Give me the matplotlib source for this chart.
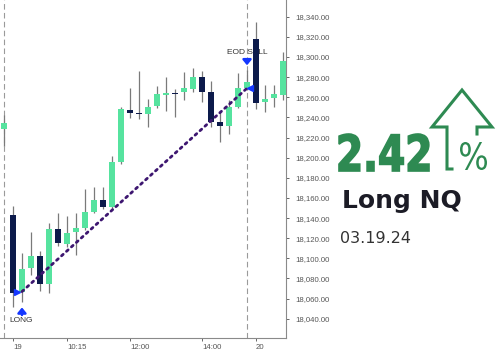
import matplotlib
matplotlib.use("Agg")
import matplotlib.pyplot as plt
from matplotlib.lines import Line2D
from matplotlib.patches import PathPatch
from matplotlib.textpath import TextPath
from matplotlib.font_manager import FontProperties
from matplotlib.transforms import Affine2D
from matplotlib.ticker import FuncFormatter, MultipleLocator
from matplotlib import font_manager

# 15 min bars, index 0 = last bar of the previous session
opens = [18228, 18143, 18067, 18090, 18102, 18075, 18129, 18114, 18126, 18130,
         18146, 18158, 18151, 18196, 18247, 18243.5, 18243, 18251, 18262, 18264,
         18265, 18268, 18280, 18265, 18235, 18231, 18250, 18269, 18318, 18255,
         18259, 18262]
highs = [18242, 18152, 18105, 18126, 18107, 18135, 18145, 18142, 18145, 18169,
         18171, 18171, 18202, 18250, 18269, 18286, 18258, 18271, 18280, 18268,
         18285, 18289, 18286, 18276, 18245, 18257, 18284, 18287, 18335, 18272,
         18272, 18305]
lows = [18212, 18052, 18057, 18083, 18068, 18066, 18112, 18111, 18103, 18128,
        18145, 18149, 18148, 18194, 18239, 18238, 18230, 18249, 18246, 18240,
        18257, 18265, 18255, 18230, 18216, 18224, 18249, 18267, 18248, 18245,
        18250, 18257]
closes = [18234, 18066, 18089, 18102, 18075, 18129, 18115, 18125, 18130, 18146,
          18158, 18151, 18196, 18248, 18244, 18243, 18250, 18263, 18264, 18263,
          18269, 18280, 18265, 18235, 18231, 18250, 18269, 18275, 18254, 18258,
          18263, 18296]

tick_pos = [1, 7, 14, 22, 28]
tick_labels = ["19", "10:15", "12:00", "14:00", "20"]
day_breaks = [0, 27]

entry_idx, entry_price = 2, 18067
exit_idx, exit_price = 27, 18269

pct_text = "2.42"
title_text = "Long NQ"
date_text = "03.19.24"

UP = "#56e39f"
DOWN = "#0c1a4b"
WICK = "#7a7a7a"
TXT_GREEN = "#2e8a52"
BLUE = "#1437ff"

names = {f.name for f in font_manager.fontManager.ttflist}
small = "Liberation Sans" if "Liberation Sans" in names else "DejaVu Sans"

fig = plt.figure(figsize=(5, 3.5), dpi=100)
ax = fig.add_axes([0, 0.034, 0.572, 0.966])

xs = list(range(len(opens)))
for b in day_breaks:
    ax.axvline(b, color="#9a9a9a", lw=0.8, ls=(0, (5, 3)), zorder=0)

ax.vlines(xs, lows, highs, color=WICK, lw=0.9, zorder=2)
for i in xs:
    o, c = opens[i], closes[i]
    col = UP if c > o else DOWN
    h = max(abs(c - o), 1.0)
    ax.bar(i, h, bottom=min(o, c), width=0.72, color=col, zorder=3)

# trade line
ax.plot([entry_idx, exit_idx], [entry_price, exit_price], color="#3d1670",
        lw=2.0, ls=(0, (0.8, 1.6)), dash_capstyle="round", zorder=4)
ax.plot(entry_idx - 0.6, entry_price, marker=">", color=BLUE, ms=5, zorder=5)
ax.plot(exit_idx + 0.3, exit_price, marker="<", color=BLUE, ms=4, zorder=5)

arr = dict(arrowstyle="-|>,head_width=0.25,head_length=0.3", color=BLUE, lw=1.8)
ax.annotate("", xy=(entry_idx, 18054), xytext=(entry_idx, 18041), arrowprops=arr, zorder=5)
ax.text(entry_idx - 0.05, 18038, "LONG", fontsize=6, family=small, color="#333333",
        ha="center", va="center")

ax.annotate("", xy=(exit_idx, 18289), xytext=(exit_idx, 18299), arrowprops=arr, zorder=5)
ax.text(exit_idx, 18304, "EOD SELL", fontsize=6, family=small, color="#333333",
        ha="center", va="center", zorder=1)

ax.set_xlim(-0.44, 31.33)
ax.set_ylim(18020.8, 18356.6)

ax.yaxis.tick_right()
ax.yaxis.set_major_locator(MultipleLocator(20))
ax.yaxis.set_major_formatter(FuncFormatter(lambda v, p: f"{v:,.2f}"))
ax.set_xticks(tick_pos)
ax.set_xticklabels(tick_labels, ha="left")
ax.tick_params(axis="both", labelsize=5.6, colors="#666666", length=2.5, width=0.7, pad=2)
ax.tick_params(axis="y", pad=4)
for lab in ax.get_xticklabels() + ax.get_yticklabels():
    lab.set_family(small)
    lab.set_color("#555555")

for s in ["top", "left"]:
    ax.spines[s].set_visible(False)
for s in ["right", "bottom"]:
    ax.spines[s].set_color("#8a8a8a")
    ax.spines[s].set_linewidth(0.8)


# right hand panel, positions in pixels from the top-left corner
def fx(px):
    return px / 500


def fy(py):
    return 1 - py / 350


def squeezed_text(s, left, top, right, bottom, weight="normal", stroke=0.0):
    # condensed lettering: glyph outline stretched into a pixel box
    path = TextPath((0, 0), s, size=1, prop=FontProperties(family="DejaVu Sans", weight=weight))
    bb = path.get_extents()
    sx = (right - left) / bb.width / 500
    sy = (bottom - top) / bb.height / 350
    tr = Affine2D().translate(-bb.x0, -bb.y0).scale(sx, sy).translate(fx(left), fy(bottom))
    fig.add_artist(PathPatch(path, transform=tr + fig.transFigure, facecolor=TXT_GREEN,
                             edgecolor=TXT_GREEN if stroke else "none", lw=stroke))


squeezed_text(pct_text, 339, 134, 429, 171, weight="bold", stroke=1.2)
squeezed_text("%", 460, 142, 487, 170)

arrow_px = [(452, 169), (447, 169), (447, 127), (432, 127), (462, 90),
            (492, 127), (477, 127), (477, 134)]
fig.add_artist(Line2D([fx(p[0]) for p in arrow_px], [fy(p[1]) for p in arrow_px],
                      transform=fig.transFigure, color=TXT_GREEN, lw=2.2,
                      solid_joinstyle="miter"))

fig.text(fx(342), fy(208), title_text, fontsize=18, fontweight="bold",
         family="DejaVu Sans", color="#1c1c26", ha="left", va="baseline")
fig.text(fx(340), fy(243), date_text, fontsize=11.5, family="DejaVu Sans",
         color="#333333", ha="left", va="baseline")

fig.savefig("out.png", dpi=100)
